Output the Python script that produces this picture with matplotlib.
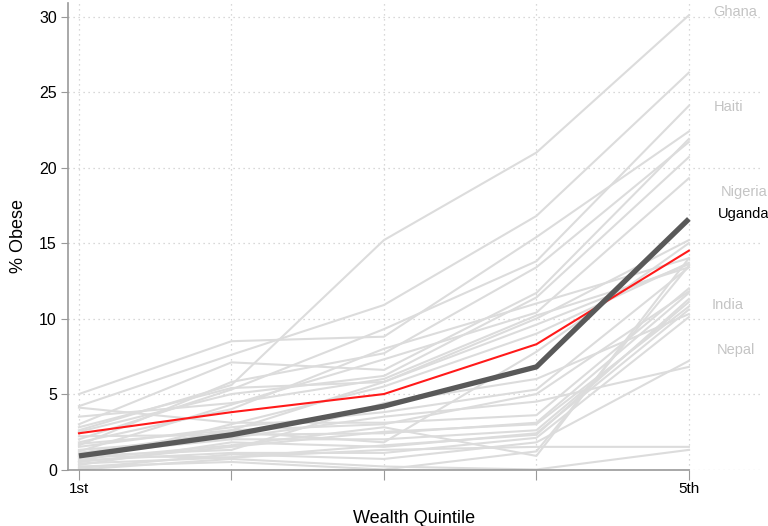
import numpy as np
import matplotlib.pyplot as plt

plt.rcParams['font.family'] = ['Liberation Sans', 'DejaVu Sans']

quintiles = [1, 2, 3, 4, 5]
tick_labels = ['1st', '', '', '', '5th']

# other countries, % obese by wealth quintile (1st..5th)
others = [
    [2.6, 5.6, 15.2, 21.0, 30.1],   # Ghana
    [4.2, 7.6, 10.9, 16.8, 26.3],
    [2.0, 5.3, 9.3, 13.8, 24.1],    # Haiti
    [5.0, 8.5, 8.8, 15.4, 22.4],
    [3.0, 7.1, 6.6, 11.7, 21.9],
    [1.6, 5.8, 7.7, 13.4, 21.7],
    [2.5, 5.0, 6.2, 11.4, 20.7],
    [1.2, 4.3, 7.3, 10.4, 19.3],    # Nigeria
    [0.8, 2.6, 5.8, 10.0, 15.2],
    [1.8, 4.0, 8.0, 11.0, 14.0],
    [0.5, 3.0, 5.5, 9.0, 13.7],
    [1.5, 2.8, 3.8, 5.3, 13.4],
    [4.1, 3.1, 3.1, 3.6, 12.0],
    [2.2, 2.3, 2.4, 3.1, 11.7],
    [1.0, 2.0, 2.0, 2.6, 11.1],     # India
    [0.3, 1.8, 1.5, 2.4, 10.6],
    [0.9, 1.3, 4.4, 6.0, 10.3],
    [0.6, 1.1, 1.1, 2.1, 10.1],     # Nepal
    [0.1, 1.0, 0.7, 1.8, 7.2],
    [1.3, 2.1, 3.5, 4.5, 6.8],
    [0.4, 0.8, 1.3, 1.5, 1.5],
    [0.0, 0.7, 0.2, 0.0, 1.3],
    [0.2, 0.5, 0.0, 1.2, 13.5],
    [0.7, 1.6, 2.8, 0.9, 14.0],
    [1.7, 2.6, 3.0, 5.0, 11.8],
    [0.5, 1.5, 2.5, 3.0, 10.8],
    [2.8, 5.4, 5.8, 9.6, 13.6],
    [1.1, 2.5, 1.8, 7.8, 15.0],
    [3.5, 4.4, 6.0, 10.2, 13.4],
    [0.9, 0.8, 1.6, 2.3, 11.3],
]

average = [2.4, 3.8, 5.0, 8.3, 14.5]
uganda = [0.9, 2.3, 4.2, 6.8, 16.6]

label_names = ['Ghana', 'Haiti', 'Nigeria', 'Uganda', 'India', 'Nepal']
label_x = [5.16, 5.16, 5.21, 5.19, 5.15, 5.18]
label_y = [30.3, 24.0, 18.4, 16.9, 10.9, 7.9]

fig = plt.figure(figsize=(7.68, 5.26), dpi=100)
ax = fig.add_axes([0.0885, 0.1074, 0.901, 0.8866])

for s in others:
    ax.plot(quintiles, s, color='#dcdcdc', lw=1.5, zorder=2)
ax.plot(quintiles, average, color='#ff1a1a', lw=1.5, zorder=3)
ax.plot(quintiles, uganda, color='#595959', lw=3.8, zorder=4, solid_capstyle='butt')

for name, x, y in zip(label_names, label_x, label_y):
    c = 'black' if name == 'Uganda' else '#c4c4c4'
    ax.text(x, y, name, color=c, fontsize=10.5, va='center', ha='left')

ax.set_xlim(0.928, 5.466)
ax.set_ylim(0, 30.9)
ax.set_xticks(quintiles)
ax.set_xticklabels(tick_labels, fontsize=11)
ax.set_yticks(range(0, 31, 5))
ax.tick_params(axis='y', labelsize=11.5, length=5, color='#999999', pad=3)
ax.tick_params(axis='x', length=7, color='#999999', pad=2)
ax.grid(True, linestyle=(0, (1, 3)), color='#cccccc', lw=0.9, zorder=0)

for side in ['top', 'right']:
    ax.spines[side].set_visible(False)
for side in ['left', 'bottom']:
    ax.spines[side].set_color('#999999')
    ax.spines[side].set_linewidth(1.2)
ax.spines['bottom'].set_bounds(0.928, 5)

ax.set_xlabel('Wealth Quintile', fontsize=13, labelpad=10)
ax.set_ylabel('% Obese', fontsize=13, labelpad=9)

fig.savefig('out.png', dpi=100)
